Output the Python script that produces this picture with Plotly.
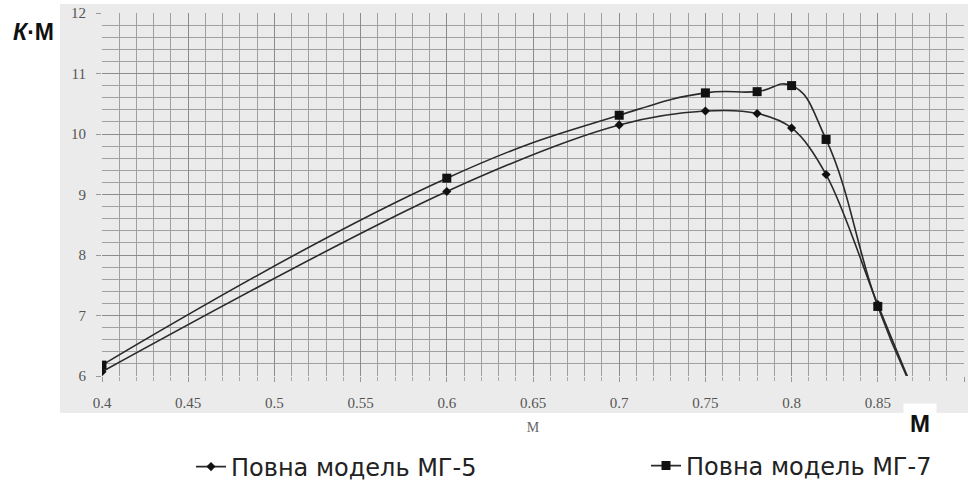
import plotly.graph_objects as go

# Data
mach = [0.4, 0.6, 0.7, 0.75, 0.78, 0.8, 0.82, 0.85, 0.87]
km_mg5 = [6.07, 9.05, 10.15, 10.38, 10.34, 10.10, 9.33, 7.18, 5.8]
km_mg7 = [6.18, 9.27, 10.31, 10.68, 10.70, 10.80, 9.91, 7.15, 5.8]
series_names = ["Повна модель МГ-5", "Повна модель МГ-7"]

x_ticks = [0.4, 0.45, 0.5, 0.55, 0.6, 0.65, 0.7, 0.75, 0.8, 0.85, 0.9]
y_ticks = [6, 7, 8, 9, 10, 11, 12]

L, R, T, B = 102, 9, 13, 128
W, H = 973, 504
pw, ph = W - L - R, H - T - B

def px(xp):
    return (xp - L) / pw

def py(yp):
    return (H - B - yp) / ph

fig = go.Figure()
fig.add_trace(go.Scatter(
    x=mach, y=km_mg5, name=series_names[0], mode="lines+markers", legend="legend",
    line=dict(color="#2a2a2a", width=1.6, shape="spline", smoothing=1.0),
    marker=dict(symbol="diamond", size=7, color="#111"),
))
fig.add_trace(go.Scatter(
    x=mach, y=km_mg7, name=series_names[1], mode="lines+markers", legend="legend2",
    line=dict(color="#2a2a2a", width=1.6, shape="spline", smoothing=1.3),
    marker=dict(symbol="square", size=9, color="#111"),
))

# Gray background panel behind axes labels
fig.add_shape(type="rect", xref="paper", yref="paper",
              x0=px(60), x1=px(968), y0=py(413), y1=py(4),
              fillcolor="#ebebeb", line=dict(width=0), layer="below")

serif = "Liberation Serif, Times New Roman, serif"
tickfont = dict(family=serif, size=15, color="#555")
fig.update_xaxes(
    range=[0.4, 0.9], tickvals=x_ticks, showgrid=True, gridcolor="#8c8c8c", gridwidth=1,
    ticks="outside", ticklen=5, tickcolor="#999", tickfont=tickfont,
    ticklabelstandoff=8, automargin=False,
    minor=dict(dtick=0.01, tick0=0.4, showgrid=True, gridcolor="#a0a0a0", gridwidth=1,
               ticks="outside", ticklen=4, tickcolor="#aaa"),
    zeroline=False, showline=False,
    title=dict(text="M", font=dict(family=serif, size=14, color="#666"), standoff=12),
)
fig.update_yaxes(
    range=[6, 12], tickvals=y_ticks, showgrid=True, gridcolor="#8c8c8c", gridwidth=1,
    ticks="outside", ticklen=5, tickcolor="#999", tickfont=tickfont,
    ticklabelstandoff=7, automargin=False,
    minor=dict(dtick=0.2, tick0=6, showgrid=True, gridcolor="#a0a0a0", gridwidth=1),
    zeroline=False, showline=False,
)

fig.add_annotation(xref="paper", yref="paper", x=px(33), y=py(32),
                   xanchor="center", yanchor="middle",
                   text="<b><i>К</i>·М</b>", showarrow=False,
                   font=dict(family="Liberation Sans", size=23, color="#111"))
fig.add_annotation(xref="paper", yref="paper", x=px(920), y=py(423),
                   xanchor="center", yanchor="middle",
                   text="<b>M</b>", showarrow=False, bgcolor="white",
                   borderpad=6,
                   font=dict(family="Liberation Sans", size=24, color="#111"))

legfont = dict(family="DejaVu Sans", size=24, color="#222")
fig.update_layout(
    width=W, height=H,
    margin=dict(l=L, r=R, t=T, b=B),
    paper_bgcolor="white", plot_bgcolor="#ebebeb",
    showlegend=True,
    legend=dict(orientation="h", x=px(191), y=py(467), xanchor="left", yanchor="middle",
                font=legfont, bgcolor="rgba(0,0,0,0)"),
    legend2=dict(orientation="h", x=px(646), y=py(466), xanchor="left", yanchor="middle",
                 font=legfont, bgcolor="rgba(0,0,0,0)"),
)

fig.write_html("out.html",
               config={"displayModeBar": False},
               post_script="document.body.style.margin='0';document.body.style.padding='0';")
